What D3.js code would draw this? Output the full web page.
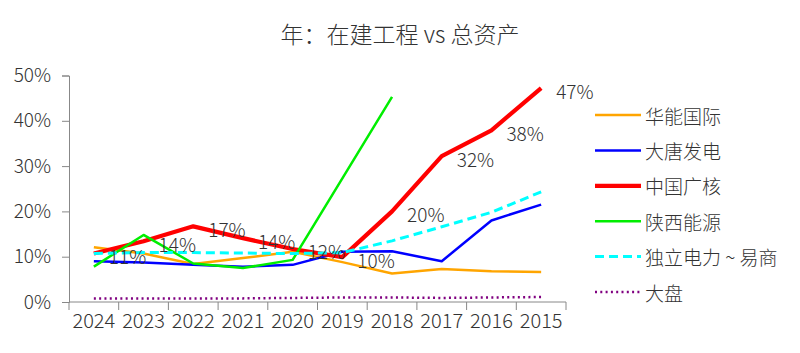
<!DOCTYPE html>
<html>
<head>
<meta charset="utf-8">
<script src="https://cdn.jsdelivr.net/npm/d3@7"></script>
<style>
  html, body { margin: 0; padding: 0; background: #fff; }
  svg { display: block; font-family: "Noto Sans CJK SC", "Noto Sans", sans-serif; font-weight: 300; }
</style>
</head>
<body>
<svg id="chart" width="800" height="353"></svg>
<script>
const years = ['2024', '2023', '2022', '2021', '2020', '2019', '2018', '2017', '2016', '2015'];
const huaneng = [12.1, 10.7, 8.4, 9.7, 11.1, 8.8, 6.3, 7.3, 6.8, 6.6];
const datang = [9.0, 8.7, 8.2, 7.8, 8.2, 11.1, 11.2, 9.0, 18.0, 21.5];
const cgn = [10.7, 13.4, 16.7, 14.1, 11.7, 9.9, 20.0, 32.2, 37.9, 47.2];
const shaanxi = [7.8, 14.8, 8.5, 7.5, 9.3, 27.3, 45.3, null, null, null];
const duli = [10.7, 10.9, 10.9, 10.8, 10.7, 10.9, 13.5, 16.6, 19.8, 24.3];
const dapan = [0.8, 0.8, 0.8, 0.8, 0.9, 1.0, 1.0, 0.9, 1.0, 1.1];
const cgnLabels = ['11%', '14%', '17%', '14%', '12%', '10%', '20%', '32%', '38%', '47%'];
const yTicks = [0, 10, 20, 30, 40, 50];

const series = [
  { name: '华能国际', values: huaneng, color: '#FFA500', width: 2.5, dash: null },
  { name: '大唐发电', values: datang, color: '#0000FF', width: 2.5, dash: null },
  { name: '中国广核', values: cgn, color: '#FF0000', width: 4.2, dash: null },
  { name: '陕西能源', values: shaanxi, color: '#00EE00', width: 2.5, dash: null },
  { name: '独立电力 ~ 易商', values: duli, color: '#00FFFF', width: 3, dash: '9 5' },
  { name: '大盘', values: dapan, color: '#800080', width: 2.5, dash: '2 3.3' }
];

const svg = d3.select('#chart');
const axisColor = '#888';
const textColor = '#333';
const latin = '"Noto Sans CJK SC", "Open Sans", sans-serif';

const x = d3.scaleBand().domain(years).range([69, 566]).padding(0);
const y = d3.scaleLinear().domain([0, 50]).range([302, 75.5]);

svg.append('text')
  .attr('x', 400)
  .attr('y', 43)
  .attr('text-anchor', 'middle')
  .attr('font-size', 23)
  .attr('fill', textColor)
  .text('年：在建工程 vs 总资产');

// y axis
const yAxis = svg.append('g')
  .attr('transform', 'translate(69,0)')
  .call(d3.axisLeft(y).tickValues(yTicks).tickSize(7).tickPadding(11).tickFormat(d => d + '%'));
yAxis.selectAll('path, line').attr('stroke', axisColor);
yAxis.selectAll('text').attr('font-size', 19).attr('fill', textColor).attr('font-family', latin);

// x axis
const xAxis = svg.append('g')
  .attr('transform', 'translate(0,302)')
  .call(d3.axisBottom(x).tickSize(0).tickPadding(12));
xAxis.selectAll('path').attr('stroke', axisColor).attr('d', 'M69,0H566');
xAxis.selectAll('text').attr('font-size', 20).attr('fill', textColor).attr('font-family', latin);
xAxis.selectAll('.sep')
  .data(d3.range(years.length + 1))
  .join('line')
  .attr('class', 'sep')
  .attr('x1', i => 69 + i * x.bandwidth())
  .attr('x2', i => 69 + i * x.bandwidth())
  .attr('y1', 0)
  .attr('y2', 8)
  .attr('stroke', axisColor);

const line = d3.line()
  .defined(d => d.v != null)
  .x(d => x(d.year) + x.bandwidth() / 2)
  .y(d => y(d.v));

series.forEach(s => {
  svg.append('path')
    .datum(years.map((year, i) => ({ year, v: s.values[i] })))
    .attr('d', line)
    .attr('fill', 'none')
    .attr('stroke', s.color)
    .attr('stroke-width', s.width)
    .attr('stroke-dasharray', s.dash)
    .attr('stroke-linejoin', 'round');
});

// data labels for 中国广核
svg.append('g')
  .selectAll('text')
  .data(years)
  .join('text')
  .attr('x', d => x(d) + x.bandwidth() / 2 + 15)
  .attr('y', (d, i) => y(cgn[i]) + 2)
  .attr('dominant-baseline', 'central')
  .attr('font-size', 19)
  .attr('fill', textColor)
  .attr('font-family', latin)
  .text((d, i) => cgnLabels[i]);

// legend
const legend = svg.append('g');
series.forEach((s, i) => {
  const ly = 115 + i * 35.4;
  legend.append('line')
    .attr('x1', 595).attr('x2', 641)
    .attr('y1', ly).attr('y2', ly)
    .attr('stroke', s.color)
    .attr('stroke-width', s.width)
    .attr('stroke-dasharray', s.dash);
  legend.append('text')
    .attr('x', 645)
    .attr('y', ly)
    .attr('dominant-baseline', 'central')
    .attr('font-size', 19)
    .attr('fill', textColor)
    .text(s.name);
});
</script>
</body>
</html>
